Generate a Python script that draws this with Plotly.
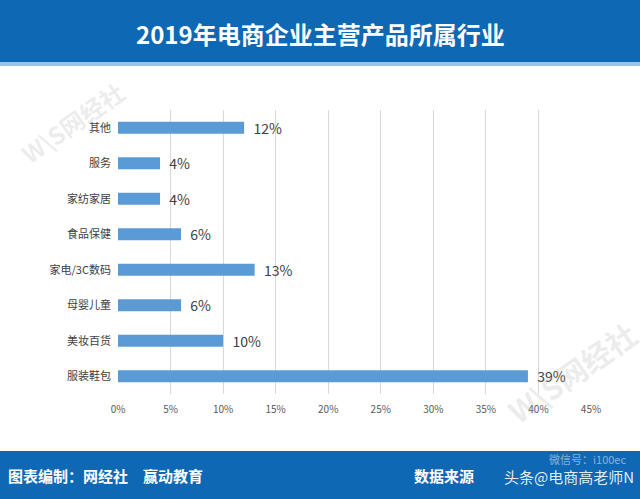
import plotly.graph_objects as go

categories = ["服装鞋包", "美妆百货", "母婴儿童", "家电/3C数码", "食品保健", "家纺家居", "服务", "其他"]
shares = [0.39, 0.10, 0.06, 0.13, 0.06, 0.04, 0.04, 0.12]
x_ticks = [0, 0.05, 0.10, 0.15, 0.20, 0.25, 0.30, 0.35, 0.40, 0.45]

W, H = 640, 499
L, R, T, B = 118, 591, 110, 394   # plot area in pixels
BLUE = "#0f68b4"
BAR = "#5b9bd5"
FONT = "Noto Sans CJK SC"


def px(x):
    return (x - L) / (R - L)


def py(y):
    return (B - y) / (B - T)


fig = go.Figure()
fig.add_trace(go.Bar(
    x=shares, y=categories, orientation="h",
    marker=dict(color=BAR, line=dict(width=0)),
    width=0.34,
    text=[f"  {v:.0%}" for v in shares], textposition="outside",
    constraintext="none",
    textfont=dict(size=14, color="#404040", family=FONT),
    cliponaxis=False,
))

shapes = [
    dict(type="rect", x0=px(-10), x1=px(W + 10), y0=py(62), y1=py(-10),
         fillcolor=BLUE, line_width=0, layer="below"),
    dict(type="rect", x0=px(-10), x1=px(W + 10), y0=py(66), y1=py(62),
         fillcolor="#9cc3e6", line_width=0, layer="below"),
    dict(type="rect", x0=px(-10), x1=px(W + 10), y0=py(H + 10), y1=py(451),
         fillcolor=BLUE, line_width=0, layer="below"),
]
for s in shapes:
    s.update(xref="paper", yref="paper")

annotations = [
    dict(text="<b>2019年电商企业主营产品所属行业</b>", x=px(320), y=py(33),
         font=dict(size=24, color="white", family=FONT)),
    dict(text="<b>图表编制：网经社　赢动教育</b>", x=px(6), y=py(475), xanchor="left",
         font=dict(size=15, color="white", family=FONT)),
    dict(text="<b>数据来源</b>", x=px(412), y=py(475), xanchor="left",
         font=dict(size=15, color="white", family=FONT)),
    dict(text="头条@电商高老师N", x=px(636), y=py(476), xanchor="right",
         font=dict(size=15, color="rgba(255,255,255,0.9)", family=FONT)),
    dict(text="微信号：i100ec", x=px(628), y=py(459), xanchor="right",
         font=dict(size=11, color="rgba(255,255,255,0.5)", family=FONT)),
    dict(text="<b>W\\S网经社</b>", x=px(72), y=py(122), textangle=-35,
         font=dict(size=24, color="rgba(170,170,170,0.22)", family=FONT)),
    dict(text="<b>W\\S网经社</b>", x=px(572), y=py(372), textangle=-35,
         font=dict(size=30, color="rgba(170,170,170,0.22)", family=FONT)),
]
for a in annotations:
    a.update(xref="paper", yref="paper", showarrow=False, yanchor="middle",
             xanchor=a.get("xanchor", "center"))

fig.update_layout(
    width=W, height=H,
    margin=dict(l=L, r=W - R, t=T, b=H - B, pad=0),
    paper_bgcolor="white", plot_bgcolor="white",
    showlegend=False, bargap=0.66,
    font=dict(family=FONT, color="#595959"),
    shapes=shapes, annotations=annotations,
)
fig.update_xaxes(range=[0, 0.45], tickvals=x_ticks, tickformat=".0%",
                 showgrid=True, gridcolor="#d9d9d9", gridwidth=1,
                 zeroline=False, showline=False, ticks="",
                 ticklabelstandoff=8,
                 tickfont=dict(size=10, color="#595959"))
fig.update_yaxes(showgrid=False, ticks="", showline=False,
                 ticklabelstandoff=6, tickfont=dict(size=11, color="#404040"))

fig.write_html("out.html", config={"displayModeBar": False},
               post_script="document.body.style.margin='0';")
